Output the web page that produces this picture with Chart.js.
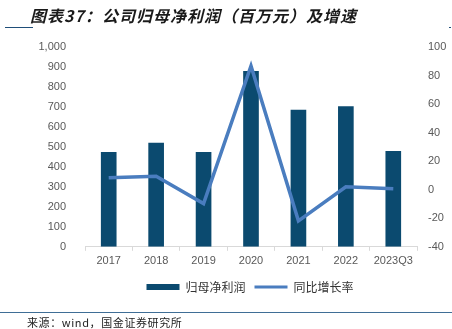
<!DOCTYPE html>
<html><head><meta charset="utf-8">
<script src="https://cdn.jsdelivr.net/npm/chart.js@4/dist/chart.umd.min.js"></script>
<style>
html,body{margin:0;padding:0;background:#fff;}
#wrap{position:relative;width:452px;height:329px;overflow:hidden;}
#title{position:absolute;left:30px;top:5px;font-family:"Noto Sans CJK SC";font-style:italic;font-weight:bold;font-size:16px;letter-spacing:1px;color:#1a1a1a;white-space:nowrap;line-height:20px;}
#uline{position:absolute;left:5px;top:27px;width:28px;height:1px;background:#1f4e79;}
#rmark{position:absolute;left:449px;top:27px;width:2px;height:1px;background:#1f4e79;}
#frule{position:absolute;left:0;top:312px;width:452px;height:1px;background:#3f6e96;}
#src{position:absolute;left:27px;top:315px;font-family:"Noto Sans CJK SC";font-size:11px;letter-spacing:0.6px;color:#222;white-space:nowrap;line-height:14px;}
canvas{position:absolute;left:0;top:0;}
</style></head>
<body><div id="wrap">
<canvas id="c" width="452" height="329"></canvas>
<div id="title">图表37：公司归母净利润（百万元）及增速</div>
<div id="uline"></div><div id="rmark"></div>
<div id="frule"></div>
<div id="src">来源：wind，国金证券研究所</div>
</div>
<script>
const categories = ["2017","2018","2019","2020","2021","2022","2023Q3"];
const netProfit = [475, 521, 475, 880, 686, 703, 480];
const growthRate = [8.3, 9.5, -9.7, 86.7, -21.8, 2.0, 0.6];
const leftTicks = [0, 1000, 100];
const rightTicks = [-40, 100, 20];
const barColor = "#0b4a6f";
const lineColor = "#4a7dbf";
const tickColor = "#595959";

new Chart(document.getElementById("c"), {
  data: {
    labels: categories,
    datasets: [
      {type: "line", label: "同比增长率", data: growthRate, yAxisID: "y2",
       borderColor: lineColor, backgroundColor: lineColor, borderWidth: 3.5,
       pointRadius: 0, tension: 0, order: 0},
      {type: "bar", label: "归母净利润", data: netProfit, yAxisID: "y",
       backgroundColor: barColor, barPercentage: 0.66, categoryPercentage: 0.5, order: 1}
    ]
  },
  options: {
    responsive: false, animation: false,
    layout: {padding: {left: 38, right: -10, top: 47, bottom: 26}},
    plugins: {
      tooltip: {enabled: false},
      legend: {
        position: "bottom", reverse: true,
        labels: {
          usePointStyle: true, pointStyleWidth: 33, boxHeight: 6,
          font: {family: "Noto Sans CJK SC", size: 12}, color: "#333", padding: 9,
          generateLabels(chart) {
            return chart.data.datasets.map((d, i) => ({
              text: d.label, datasetIndex: i,
              fillStyle: d.type === "bar" ? barColor : lineColor,
              strokeStyle: d.type === "bar" ? barColor : lineColor,
              lineWidth: d.type === "bar" ? 0 : 3,
              pointStyle: d.type === "bar" ? "rect" : "line",
              fontColor: "#333", hidden: false
            }));
          }
        }
      }
    },
    scales: {
      x: {
        grid: {display: true, drawOnChartArea: false, drawTicks: true, tickLength: 4, color: "#d9d9d9", offset: true},
        border: {display: true, color: "#d9d9d9"},
        ticks: {color: tickColor, font: {family: "Liberation Sans", size: 11}, padding: 4, maxRotation: 0}
      },
      y: {
        position: "left", min: leftTicks[0], max: leftTicks[1],
        grid: {display: false}, border: {display: false},
        afterFit(s) { s.width = 47; },
        ticks: {stepSize: leftTicks[2], color: tickColor, font: {family: "Liberation Sans", size: 11}, padding: 11,
          callback: v => v.toLocaleString("en-US")}
      },
      y2: {
        position: "right", min: rightTicks[0], max: rightTicks[1],
        grid: {display: false}, border: {display: false},
        afterFit(s) { s.width = 45; },
        ticks: {stepSize: rightTicks[2], color: tickColor, font: {family: "Liberation Sans", size: 11}, padding: 3}
      }
    }
  }
});
</script>
</body></html>
